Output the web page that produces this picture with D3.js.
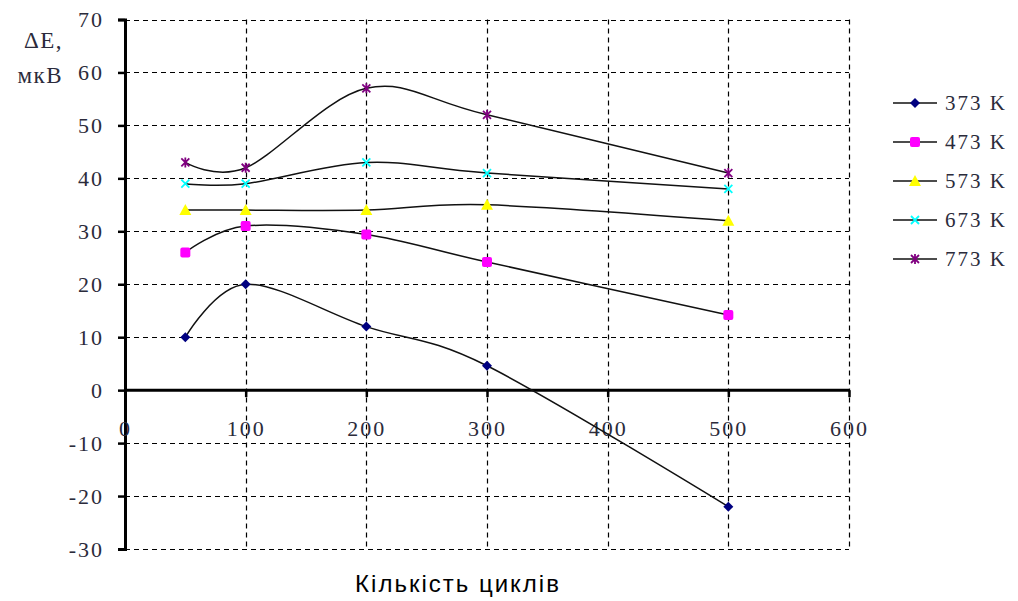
<!DOCTYPE html>
<html>
<head>
<meta charset="utf-8">
<script src="https://cdn.jsdelivr.net/npm/d3@7"></script>
<style>
  body { margin: 0; background: #fff; }
  svg { display: block; }
</style>
</head>
<body>
<svg id="chart"></svg>
<script>
// cycles on the x axis
var cycles = [50, 100, 200, 300, 500];
var seriesNames = ["373 K", "473 K", "573 K", "673 K", "773 K"];
var s373 = [10, 20, 12, 4.6, -22];
var s473 = [26, 31, 29.4, 24.2, 14.2];
var s573 = [34, 34, 34, 35, 32];
var s673 = [39, 39, 43, 41, 38];
var s773 = [43, 42, 57, 52, 41];
var xTicks = [0, 100, 200, 300, 400, 500, 600];
var yTicks = [-30, -20, -10, 0, 10, 20, 30, 40, 50, 60, 70];

var allSeries = [s373, s473, s573, s673, s773];
var markerColor = ["#000080", "#ff00ff", "#ffff00", "#00ffff", "#800080"];
var markerType = ["diamond", "square", "triangle", "cross", "star"];

var W = 1018, H = 601;
var svg = d3.select("#chart").attr("width", W).attr("height", H);

var x = d3.scaleLinear().domain([0, 600]).range([125, 849]),
    y = d3.scaleLinear().domain([-30, 70]).range([549, 19.5]);

var serif = "'Liberation Serif', 'Times New Roman', serif";
var txtColor = "#2b2b3b";

// dashed grid
var grid = svg.append("g").attr("stroke", "#000").attr("stroke-width", 1.2)
  .attr("stroke-dasharray", "5,4");
grid.selectAll(".gy").data(yTicks).enter().append("line")
  .attr("x1", x(0)).attr("x2", x(600))
  .attr("y1", function(d) { return Math.round(y(d)) + 0.5; })
  .attr("y2", function(d) { return Math.round(y(d)) + 0.5; });
grid.selectAll(".gx").data(xTicks.slice(1)).enter().append("line")
  .attr("y1", y(70)).attr("y2", y(-30))
  .attr("x1", function(d) { return Math.round(x(d)) + 0.5; })
  .attr("x2", function(d) { return Math.round(x(d)) + 0.5; });

// axes
var plainFmt = function(d) { return "" + d; };
var yAxis = d3.axisLeft(y).tickValues(yTicks).tickSize(7).tickPadding(14).tickFormat(plainFmt);
var xAxis = d3.axisBottom(x).tickValues(xTicks).tickSize(7).tickPadding(23).tickFormat(plainFmt);

var yG = svg.append("g").attr("transform", "translate(" + x(0) + ",0)").call(yAxis);
var xG = svg.append("g").attr("transform", "translate(0," + y(0) + ")").call(xAxis);

[yG, xG].forEach(function(g) {
  g.select(".domain").attr("stroke-width", 3);
  g.selectAll(".tick line").attr("stroke-width", 2.5);
  g.selectAll(".tick text").style("font-family", serif).style("font-size", "22px")
    .style("letter-spacing", "2px").attr("fill", txtColor);
});
xG.select(".domain").attr("d", "M" + x(0) + ",0H" + x(600));

// y label
svg.append("text").attr("x", 63).attr("y", 48).attr("text-anchor", "end")
  .style("font-family", serif).style("font-size", "23px").style("letter-spacing", "1.5px")
  .attr("fill", txtColor).text("ΔE,");
svg.append("text").attr("x", 63).attr("y", 83).attr("text-anchor", "end")
  .style("font-family", serif).style("font-size", "23px").style("letter-spacing", "1.5px")
  .attr("fill", txtColor).text("мкВ");

// x label
svg.append("text").attr("x", 458).attr("y", 592).attr("text-anchor", "middle")
  .style("font-family", "'Liberation Sans', Arial, sans-serif").style("font-size", "24px")
  .style("letter-spacing", "2px").attr("fill", "#000").text("Кількість циклів");

var line = d3.line()
  .curve(d3.curveCatmullRom.alpha(0))
  .x(function(d) { return x(d.c); })
  .y(function(d) { return y(d.v); });

function drawMarker(g, type, color, cx, cy) {
  if (type === "diamond") {
    g.append("path").attr("d", "M" + cx + "," + (cy - 5) + "L" + (cx + 5) + "," + cy +
      "L" + cx + "," + (cy + 5) + "L" + (cx - 5) + "," + cy + "Z").attr("fill", color);
  } else if (type === "square") {
    g.append("rect").attr("x", cx - 5).attr("y", cy - 5).attr("width", 10).attr("height", 10)
      .attr("rx", 2).attr("fill", color);
  } else if (type === "triangle") {
    g.append("path").attr("d", "M" + cx + "," + (cy - 6) + "L" + (cx + 6) + "," + (cy + 5) +
      "L" + (cx - 6) + "," + (cy + 5) + "Z").attr("fill", color);
  } else if (type === "cross") {
    g.append("path").attr("d", "M" + (cx - 4) + "," + (cy - 4) + "L" + (cx + 4) + "," + (cy + 4) +
      "M" + (cx + 4) + "," + (cy - 4) + "L" + (cx - 4) + "," + (cy + 4))
      .attr("stroke", color).attr("stroke-width", 1.8);
  } else {
    g.append("path").attr("d", "M" + (cx - 4) + "," + (cy - 4) + "L" + (cx + 4) + "," + (cy + 4) +
      "M" + (cx + 4) + "," + (cy - 4) + "L" + (cx - 4) + "," + (cy + 4) +
      "M" + cx + "," + (cy - 5) + "L" + cx + "," + (cy + 5))
      .attr("stroke", color).attr("stroke-width", 1.8);
  }
}

allSeries.forEach(function(vals, i) {
  var pts = cycles.map(function(c, j) { return {c: c, v: vals[j]}; });
  var g = svg.append("g");
  g.append("path").attr("d", line(pts)).attr("fill", "none")
    .attr("stroke", "#111").attr("stroke-width", 1.5);
  pts.forEach(function(p) {
    drawMarker(g, markerType[i], markerColor[i], x(p.c), y(p.v));
  });
});

// legend
var leg = svg.append("g");
seriesNames.forEach(function(name, i) {
  var ly = 103 + i * 39;
  leg.append("line").attr("x1", 893).attr("x2", 937).attr("y1", ly).attr("y2", ly)
    .attr("stroke", "#111").attr("stroke-width", 1.5);
  drawMarker(leg, markerType[i], markerColor[i], 915, ly);
  leg.append("text").attr("x", 945).attr("y", ly + 7)
    .style("font-family", serif).style("font-size", "21px").style("letter-spacing", "2px")
    .attr("fill", txtColor).text(name);
});
</script>
</body>
</html>
